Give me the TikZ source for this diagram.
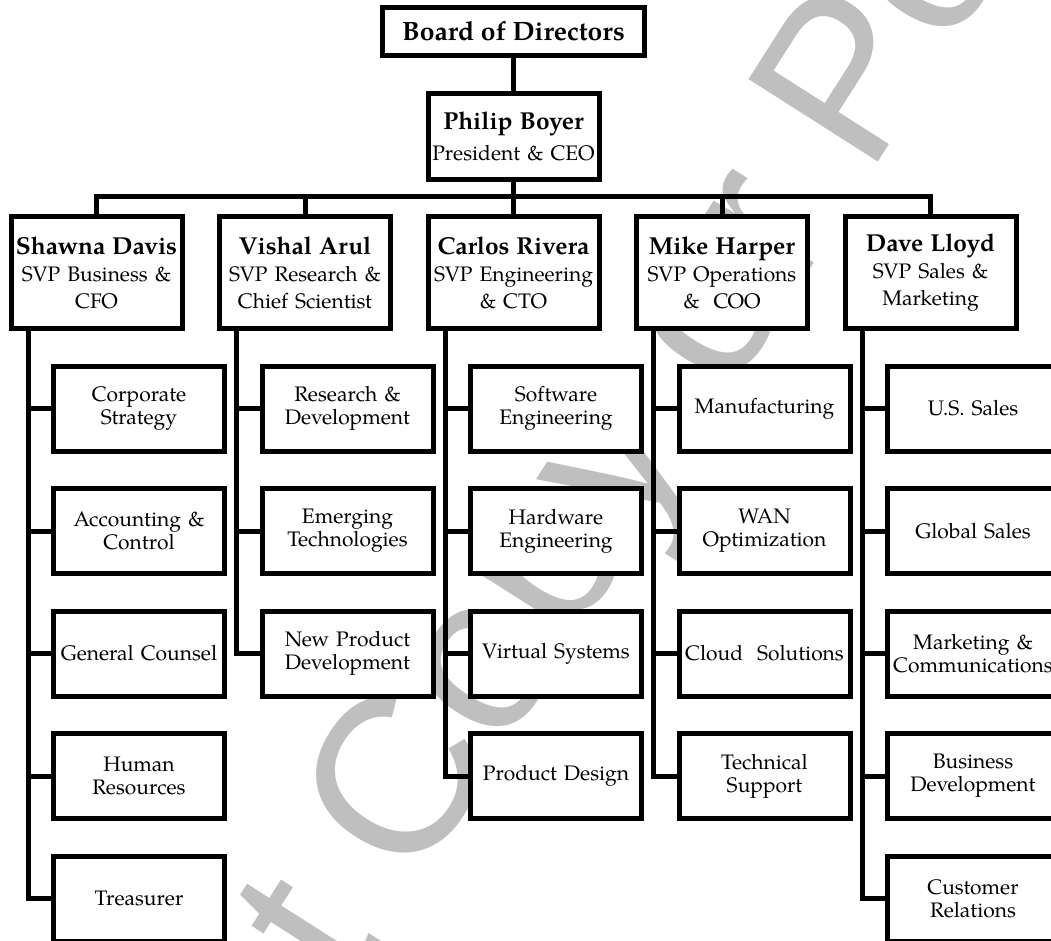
\documentclass[tikz,border=0pt]{standalone}
\usepackage{fontspec}
\setmainfont{texgyrepagella}[
    Extension=.otf,
    UprightFont=*-regular,
    BoldFont=*-bold,
    ItalicFont=*-italic,
    BoldItalicFont=*-bolditalic]
\newfontfamily\markfont{Liberation Sans}
\usetikzlibrary{positioning}

\newcommand{\who}[1]{{\fontsize{24.5}{26}\selectfont\bfseries #1}}

\begin{document}
\begin{tikzpicture}[
        x=1pt, y=1pt,
        node distance=37.5pt and 37.5pt,
        line width=5pt,
        unit/.style={
            draw,
            fill=white,
            outer sep=0pt,
            inner sep=0pt,
            align=center,
            text width=171pt,
            minimum height=85pt,
            font=\fontsize{21}{23}\selectfont
        },
        head/.style={
            unit,
            minimum height=112pt,
            font=\fontsize{21}{27}\selectfont
        },
        boardbox/.style={
            draw,
            fill=white,
            outer sep=0pt,
            minimum width=262pt,
            minimum height=48pt,
            font=\fontsize{26.5}{28}\selectfont\bfseries
        },
        stamp/.style={
            text=black!25,
            rotate=57.5,
            font=\markfont\fontsize{223}{223}\selectfont
        }
    ]
    \useasboundingbox (0,0) rectangle (1051,-940);

    % watermark behind everything
    \node[stamp] (mark) at (513,-634) {Do Not Copy or Post};

    \node[boardbox] (board) at (513.5,-31.5) {Board of Directors};

    \node[unit, minimum height=86pt, below=of board] (ceo) {\who{Philip Boyer}\\[8pt]
    President \& CEO};

    \node[head, below=of ceo] (carlos) {\who{Carlos Rivera}\\
    SVP Engineering\\\& CTO};
    \node[head, left=of carlos] (vishal) {\who{Vishal Arul}\\
    SVP Research \&\\Chief Scientist};
    \node[head, left=of vishal] (shawna) {\who{Shawna Davis}\\
    SVP Business \&\\CFO};
    \node[head, right=of carlos] (mike) {\who{Mike Harper}\\
    SVP Operations\\\& \ COO};
    \node[head, right=of mike] (dave) {\who{Dave Lloyd}\\
    SVP Sales \&\\Marketing};

    % business
    \node[unit, below=of shawna, xshift=42.5pt] (strat) {Corporate\\Strategy};
    \node[unit, below=of strat] (acct) {Accounting \&\\Control};
    \node[unit, below=of acct] (counsel) {General Counsel};
    \node[unit, below=of counsel] (hr) {Human\\Resources};
    \node[unit, below=of hr] (treas) {Treasurer};

    % research
    \node[unit, below=of vishal, xshift=42.5pt] (rnd) {Research \&\\Development};
    \node[unit, below=of rnd] (emerging) {Emerging\\Technologies};
    \node[unit, below=of emerging] (npd) {New Product\\Development};

    % engineering
    \node[unit, below=of carlos, xshift=42.5pt] (software) {Software\\Engineering};
    \node[unit, below=of software] (hardware) {Hardware\\Engineering};
    \node[unit, below=of hardware] (virtual) {Virtual Systems};
    \node[unit, below=of virtual] (design) {Product Design};

    % operations
    \node[unit, below=of mike, xshift=42.5pt] (manuf) {Manufacturing};
    \node[unit, below=of manuf] (wan) {WAN\\Optimization};
    \node[unit, below=of wan] (cloud) {Cloud\ \ Solutions};
    \node[unit, below=of cloud] (support) {Technical\\Support};

    % sales
    \node[unit, below=of dave, xshift=42.5pt] (ussales) {U.S. Sales};
    \node[unit, below=of ussales] (global) {Global Sales};
    \node[unit, below=of global] (mktg) {Marketing \&\\Communications};
    \node[unit, below=of mktg] (bizdev) {Business\\Development};
    \node[unit, below=of bizdev] (custrel) {Customer\\Relations};

    \draw (board) -- (ceo);
    \foreach \m in {shawna, vishal, carlos, mike, dave}
        \draw (ceo.south) -- ++(0,-17.5) -| (\m.north);

    \foreach \s in {strat, acct, counsel, hr, treas}
        \draw ([xshift=17pt]shawna.south west) |- (\s.west);
    \foreach \s in {rnd, emerging, npd}
        \draw ([xshift=17pt]vishal.south west) |- (\s.west);
    \foreach \s in {software, hardware, virtual, design}
        \draw ([xshift=17pt]carlos.south west) |- (\s.west);
    \foreach \s in {manuf, wan, cloud, support}
        \draw ([xshift=17pt]mike.south west) |- (\s.west);
    \foreach \s in {ussales, global, mktg, bizdev, custrel}
        \draw ([xshift=17pt]dave.south west) |- (\s.west);
\end{tikzpicture}
\end{document}
